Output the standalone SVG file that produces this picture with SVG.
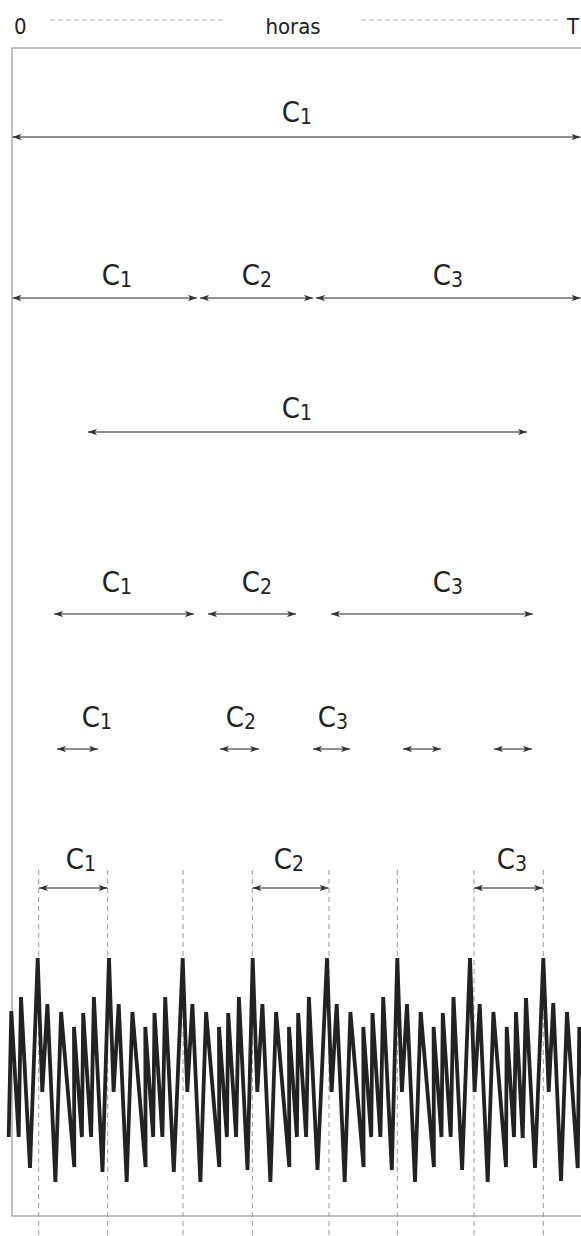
<svg xmlns="http://www.w3.org/2000/svg" width="581" height="1236" viewBox="0 0 581 1236">
<style>
.lbl{font-family:"DejaVu Sans Condensed","DejaVu Sans",sans-serif;font-stretch:condensed;font-size:29px;fill:#222;text-anchor:middle}
.sub{font-size:21px}
.hdr{font-family:"DejaVu Sans Condensed","DejaVu Sans",sans-serif;font-stretch:condensed;font-size:22px;fill:#222}
.arr{stroke:#6a6a6a;stroke-width:1.3;fill:none;marker-start:url(#ah);marker-end:url(#ah)}
.frame{stroke:#aaa;stroke-width:1.5;fill:none}
.hdash{stroke:#aaa;stroke-width:1;stroke-dasharray:5 3;fill:none}
.vdash{stroke:#999;stroke-width:1;stroke-dasharray:5 4;fill:none}
</style>
<defs>
<marker id="ah" viewBox="0 0 10 7" refX="10" refY="3.5" markerWidth="9" markerHeight="6.3" markerUnits="userSpaceOnUse" orient="auto-start-reverse">
<path d="M0,0 L10,3.5 L0,7 L2.5,3.5 Z" fill="#333"/>
</marker>
</defs>
<rect width="581" height="1236" fill="#fff"/>
<g id="header">
<text class="hdr" x="14" y="34">0</text>
<line class="hdash" x1="50" y1="20" x2="224" y2="20"/>
<text class="hdr" x="293" y="34" text-anchor="middle">horas</text>
<line class="hdash" x1="361" y1="20" x2="559" y2="20"/>
<text class="hdr" x="579" y="34" text-anchor="end">T</text>
</g>
<g id="frame">
<path class="frame" d="M581,48 H12 V1216 H581"/>
</g>
<g id="guides">
<line class="vdash" x1="38.7" y1="870" x2="38.7" y2="1236"/>
<line class="vdash" x1="107.7" y1="870" x2="107.7" y2="1236"/>
<line class="vdash" x1="183" y1="870" x2="183" y2="1236"/>
<line class="vdash" x1="252.3" y1="870" x2="252.3" y2="1236"/>
<line class="vdash" x1="329" y1="870" x2="329" y2="1236"/>
<line class="vdash" x1="397.3" y1="870" x2="397.3" y2="1236"/>
<line class="vdash" x1="474" y1="870" x2="474" y2="1236"/>
<line class="vdash" x1="543.3" y1="870" x2="543.3" y2="1236"/>
</g>
<g id="labels">
<g id="row1"><text class="lbl" x="297" y="122">C<tspan class="sub" dy="2">1</tspan></text></g>
<g id="row2">
<text class="lbl" x="117" y="285">C<tspan class="sub" dy="2">1</tspan></text>
<text class="lbl" x="257" y="285">C<tspan class="sub" dy="2">2</tspan></text>
<text class="lbl" x="448" y="285">C<tspan class="sub" dy="2">3</tspan></text>
</g>
<g id="row3"><text class="lbl" x="297" y="418">C<tspan class="sub" dy="2">1</tspan></text></g>
<g id="row4">
<text class="lbl" x="117" y="592">C<tspan class="sub" dy="2">1</tspan></text>
<text class="lbl" x="257" y="592">C<tspan class="sub" dy="2">2</tspan></text>
<text class="lbl" x="448" y="592">C<tspan class="sub" dy="2">3</tspan></text>
</g>
<g id="row5">
<text class="lbl" x="97" y="727">C<tspan class="sub" dy="2">1</tspan></text>
<text class="lbl" x="241" y="727">C<tspan class="sub" dy="2">2</tspan></text>
<text class="lbl" x="333" y="727">C<tspan class="sub" dy="2">3</tspan></text>
</g>
<g id="row6">
<text class="lbl" x="81" y="869">C<tspan class="sub" dy="2">1</tspan></text>
<text class="lbl" x="289" y="869">C<tspan class="sub" dy="2">2</tspan></text>
<text class="lbl" x="512" y="869">C<tspan class="sub" dy="2">3</tspan></text>
</g>
</g>
<g id="connectors">
<line class="arr" x1="12.5" y1="137" x2="580.5" y2="137"/>
<line class="arr" x1="12.5" y1="298" x2="197" y2="298"/>
<line class="arr" x1="200" y1="298" x2="313" y2="298"/>
<line class="arr" x1="316" y1="298" x2="580.5" y2="298"/>
<line class="arr" x1="88" y1="432" x2="527" y2="432"/>
<line class="arr" x1="54" y1="614" x2="194" y2="614"/>
<line class="arr" x1="208" y1="614" x2="296" y2="614"/>
<line class="arr" x1="331" y1="614" x2="533" y2="614"/>
<line class="arr" x1="57" y1="749" x2="98" y2="749"/>
<line class="arr" x1="220" y1="749" x2="259" y2="749"/>
<line class="arr" x1="313" y1="749" x2="350" y2="749"/>
<line class="arr" x1="403" y1="749" x2="441" y2="749"/>
<line class="arr" x1="494" y1="749" x2="532" y2="749"/>
<line class="arr" x1="39" y1="888" x2="107.5" y2="888"/>
<line class="arr" x1="252.5" y1="888" x2="328.5" y2="888"/>
<line class="arr" x1="474" y1="888" x2="543" y2="888"/>
</g>
<g id="signal">
<polyline fill="none" stroke="#222" stroke-width="3.8" points="8.7,1137 11.3,1011 18.7,1137 21,997 30,1168 37.7,958 42.3,1092 47.4,1004 55.4,1182 61.1,1012 74.3,1167 74,1027 81.9,1137 83.2,1013 91.1,1137 93.9,997 102.5,1172 109,958 113.6,1092 118.7,1004 126.7,1182 132.4,1012 145.6,1167 145.3,1027 153.2,1137 154.5,1013 162.4,1137 165.2,997 173.8,1172 182.7,958 187.3,1092 192.4,1004 200.4,1182 206.1,1012 219.3,1167 219,1027 226.9,1137 228.2,1013 236.1,1137 238.9,997 247.5,1170 252.7,958 257.3,1092 262.4,1004 270.4,1182 276.1,1012 289.3,1167 289,1027 296.9,1137 298.2,1013 306.1,1137 308.9,997 317.5,1170 327,958 331.6,1092 336.7,1004 344.7,1182 350.4,1012 363.6,1167 363.3,1027 371.2,1137 372.5,1013 380.4,1137 383.2,997 391.8,1170 397.3,958 401.9,1092 407,1004 415,1182 420.7,1012 433.9,1167 433.6,1027 441.5,1137 442.8,1013 450.7,1137 453.5,997 462.1,1170 470,958 474.6,1092 479.7,1004 487.7,1182 493.4,1012 506,1167 506.7,1027 514,1137 516,1012 522.7,1138 526,998 535,1168 543.3,958 548.7,1092 553.3,1003 561,1181 567,1012 577.7,1168 579.3,1027 587,1137"/>
</g>
</svg>
